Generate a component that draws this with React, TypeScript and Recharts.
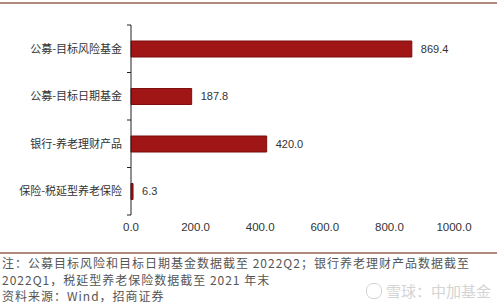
import { Bar, BarChart, LabelList, XAxis, YAxis } from 'recharts'

const categories = ['公募-目标风险基金', '公募-目标日期基金', '银行-养老理财产品', '保险-税延型养老保险']
const values = [869.4, 187.8, 420.0, 6.3]
const xTicks = [0, 200, 400, 600, 800, 1000]
const noteLines = [
  '注：公募目标风险和目标日期基金数据截至 2022Q2；银行养老理财产品数据截至',
  '2022Q1，税延型养老保险数据截至 2021 年末',
  '资料来源：Wind，招商证券',
]
const watermark = '雪球：中加基金'

const data = categories.map((name, i) => ({ name, value: values[i] }))

const CHART_W = 500
const CHART_H = 240
const MARGIN = { top: 25, right: 46, bottom: 5, left: 0 }
const Y_AXIS_W = 131
const X_AXIS_H = 20
const BAND = (CHART_H - MARGIN.top - MARGIN.bottom - X_AXIS_H) / categories.length

const cjk = '"Noto Sans CJK SC", "Noto Sans", sans-serif'
const latin = '"Liberation Sans", Arial, sans-serif'

function CategoryTick(props: any) {
  const { x, y, payload, index } = props
  const axisX = MARGIN.left + Y_AXIS_W
  const last = index === categories.length - 1
  return (
    <g>
      <line x1={axisX - 4} x2={axisX} y1={y - BAND / 2} y2={y - BAND / 2} stroke="#222" />
      {last && <line x1={axisX - 4} x2={axisX} y1={y + BAND / 2} y2={y + BAND / 2} stroke="#222" />}
      <text x={x - 1} y={y} dy="0.35em" textAnchor="end" fill="#333" fontSize={11} fontFamily={cjk}>
        {payload.value}
      </text>
    </g>
  )
}

export default function App() {
  return (
    <div style={{ position: 'relative', width: 500, height: 307, background: '#fff', overflow: 'hidden' }}>
      <style>{'body{margin:0}'}</style>
      <div style={{ position: 'absolute', left: 0, top: 2, width: 497, height: 1.5, background: '#b08a7c' }} />
      <div style={{ position: 'absolute', left: 0, top: 0 }}>
        <BarChart width={CHART_W} height={CHART_H} data={data} layout="vertical" margin={MARGIN}>
          <XAxis
            type="number"
            domain={[0, 1000]}
            ticks={xTicks}
            height={X_AXIS_H}
            axisLine={false}
            tickLine={false}
            tickFormatter={(v: number) => v.toFixed(1)}
            tick={{ fill: '#333', fontSize: 11.5, fontFamily: latin }}
          />
          <YAxis
            type="category"
            dataKey="name"
            width={Y_AXIS_W}
            axisLine={{ stroke: '#222' }}
            tickLine={false}
            tick={<CategoryTick />}
          />
          <Bar dataKey="value" fill="#a01515" stroke="#7d0f0f" barSize={16} isAnimationActive={false}>
            <LabelList
              dataKey="value"
              position="right"
              offset={9}
              formatter={(v: any) => Number(v).toFixed(1)}
              style={{ fill: '#333', fontSize: 11, fontFamily: latin }}
            />
          </Bar>
        </BarChart>
      </div>
      <div style={{ position: 'absolute', left: 0, top: 252, width: 497, height: 1.5, background: '#b08a7c' }} />
      <div
        style={{
          position: 'absolute',
          left: 2,
          top: 255,
          fontFamily: cjk,
          fontSize: 12,
          letterSpacing: 1,
          lineHeight: '16.5px',
          color: '#555',
          whiteSpace: 'nowrap',
        }}
      >
        {noteLines.map((l) => (
          <div key={l} style={{ height: 16.5 }}>
            {l}
          </div>
        ))}
      </div>
      <div
        style={{
          position: 'absolute',
          left: 366,
          top: 280,
          fontFamily: cjk,
          fontSize: 15,
          color: '#d4d4d4',
          whiteSpace: 'nowrap',
        }}
      >
        <span
          style={{
            display: 'inline-block',
            width: 14,
            height: 14,
            borderRadius: 7,
            border: '1.5px solid #d4d4d4',
            marginRight: 4,
            verticalAlign: '-2px',
          }}
        />
        {watermark}
      </div>
    </div>
  )
}
